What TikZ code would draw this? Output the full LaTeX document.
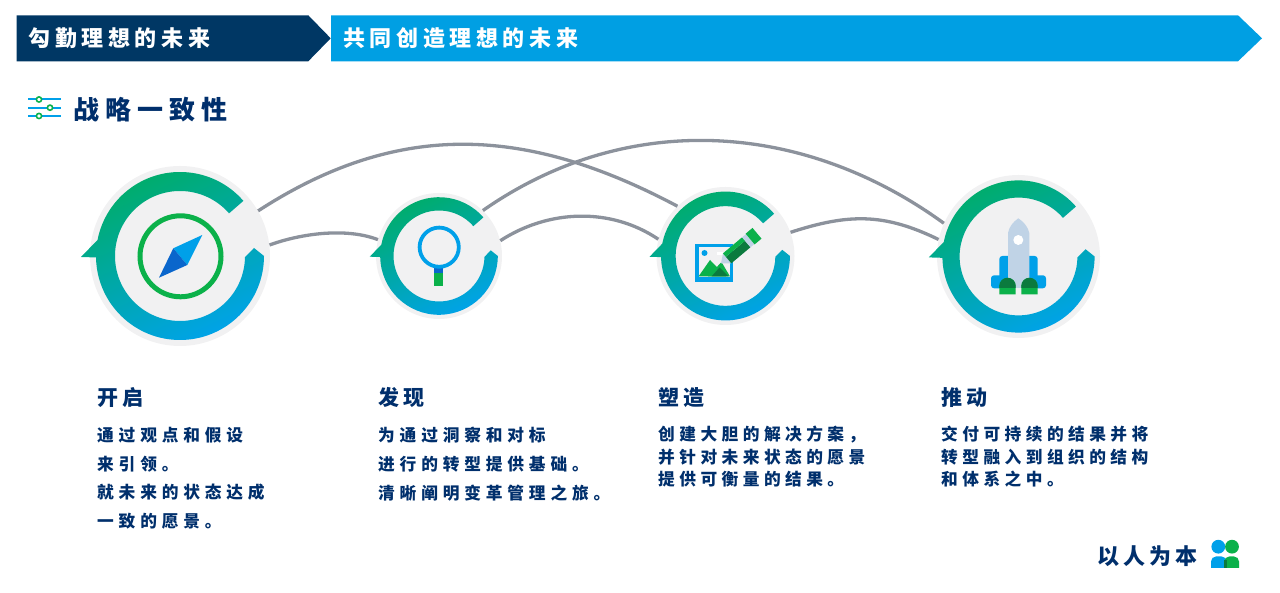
\documentclass[tikz,border=0pt]{standalone}
\usepackage{fontspec}
\usepackage{tikz}
\newfontfamily\cjk{Noto Sans CJK SC}
\definecolor{navyband}{HTML}{003764}
\definecolor{skyband}{HTML}{009FE3}
\definecolor{navytext}{HTML}{002F6C}
\definecolor{ringgreen}{HTML}{00AD64}
\definecolor{ringblue}{HTML}{00A3E6}
\definecolor{ringback}{HTML}{F1F1F2}
\definecolor{linkgray}{HTML}{8C929C}
\definecolor{icongreen}{HTML}{0BB14A}
\definecolor{icondark}{HTML}{0B7A3E}
\definecolor{iconblue}{HTML}{00A0E9}
\definecolor{iconnavy}{HTML}{0A66CC}
\definecolor{iconpale}{HTML}{C0D3E6}
\tikzset{
    stagecircle/.style={circle, fill=ringback, inner sep=0pt},
    link/.style={draw=linkgray, line width=3.3pt},
    bandtext/.style={anchor=west, inner sep=0pt, text=white, font=\cjk\bfseries\fontsize{22}{26}\selectfont\addfontfeature{LetterSpace=21}},
    titletext/.style={anchor=west, inner sep=0pt, text=navytext, font=\cjk\bfseries\fontsize{26}{30}\selectfont\addfontfeature{LetterSpace=23}},
    headtext/.style={anchor=west, inner sep=0pt, text=navytext, font=\cjk\bfseries\fontsize{21}{25}\selectfont\addfontfeature{LetterSpace=19}},
    bodytext/.style 2 args={anchor=north west, inner sep=0pt, align=left, text=navytext, font=\cjk\bfseries\fontsize{16.7}{#1}\selectfont\addfontfeature{LetterSpace=#2}},
    stagering/.pic={
        \shade[top color=ringgreen, bottom color=ringblue, shading angle=25]
            (41:84) arc[start angle=41, end angle=169, radius=84]
            -- (-99,-1) -- (181:84)
            arc[start angle=181, end angle=360, radius=84]
            -- (74,8) -- (-1:65)
            arc[start angle=359, end angle=41, radius=65] -- cycle;
    }
}
\begin{document}
\begin{tikzpicture}[x=1pt, y=1pt]
    \useasboundingbox (0,0) rectangle (1280,593);
    % bands
    \fill[skyband] (331,577.7) -- (1238,577.7) -- (1262,554.7) -- (1238,531.7) -- (331,531.7) -- cycle;
    \fill[navyband] (16.7,577.7) -- (308.3,577.7) -- (330.7,554.7) -- (308.3,531.7) -- (16.7,531.7) -- cycle;
    \node[bandtext] (leadband) at (28.3,554.5) {勾勤理想的未来};
    \node[bandtext] (jointband) at (343,554.5) {共同创造理想的未来};
    % title
    \node[titletext] (aligntitle) at (73,483.5) {战略一致性};
    % stages
    \node[stagecircle, minimum size=180pt] (open) at (180,337) {};
    \node[stagecircle, minimum size=126pt] (discover) at (439,337) {};
    \node[stagecircle, minimum size=138pt] (shape) at (725.5,337) {};
    \node[stagecircle, minimum size=163pt] (drive) at (1018.5,336.5) {};
    \pic[scale=1] at (open.center) {stagering};
    \pic[scale=.7] at (discover.center) {stagering};
    \pic[scale=.767] at (shape.center) {stagering};
    \pic[scale=.906] at (drive.center) {stagering};
    % links
    \draw[link] (open.30) to[out=33, in=152, looseness=1.03] (shape.134);
    \draw[link] (discover.46) to[out=35, in=144, looseness=.97] (drive.156);
    \draw[link] (open.7) to[out=20, in=159, looseness=.8] (discover.165);
    \draw[link] (discover.14) to[out=33, in=146, looseness=.93] (shape.166);
    \draw[link] (shape.20) to[out=18, in=154, looseness=1.05] (drive.168);
    % labels
    \node[headtext] (openhead) at (97,195.5) {开启};
    \node[headtext] (discoverhead) at (378,195.5) {发现};
    \node[headtext] (shapehead) at (658,195.5) {塑造};
    \node[headtext] (drivehead) at (941,195.5) {推动};
    \node[bodytext={28.7}{29}] (openbody) at (97,166) {通过观点和假设\\来引领。\\就未来的状态达成\\一致的愿景。};
    \node[bodytext={28.7}{29}] (discoverbody) at (378,166) {为通过洞察和对标\\进行的转型提供基础。\\清晰阐明变革管理之旅。};
    \node[bodytext={22.4}{26.7}] (shapebody) at (658,167) {创建大胆的解决方案，\\并针对未来状态的愿景\\提供可衡量的结果。};
    \node[bodytext={22.4}{26.7}] (drivebody) at (941,167) {交付可持续的结果并将\\转型融入到组织的结构\\和体系之中。};
    \node[headtext, font=\cjk\bfseries\fontsize{22}{26}\selectfont\addfontfeature{LetterSpace=18}] (peoplelabel) at (1097.5,37) {以人为本};
    % icons, in picture pixels
    \begin{scope}[shift={(0,593)}, yscale=-1]
        % sliders
        \foreach \ypos/\xpos in {99.5/39, 107.7/50, 116/39} {
            \draw[iconblue, line width=2pt] (28.3,\ypos) -- (61,\ypos);
            \draw[icongreen, fill=white, line width=1.6pt] (\xpos,\ypos) circle (2.6);
        }
        % compass
        \draw[icongreen, line width=5pt] (180.5,256.3) circle (40.5);
        \fill[iconblue] (202.3,235) -- (173.3,248.3) -- (187.3,265) -- cycle;
        \fill[iconnavy] (159,277.7) -- (173.3,248.3) -- (187.3,265) -- cycle;
        % magnifier
        \fill[icongreen] (434.3,265) rectangle (443,286);
        \fill[iconnavy] (434.3,265) rectangle (443,273);
        \draw[iconblue, line width=3.8pt] (439.2,247.2) circle (19.6);
        % picture frame and pen
        \draw[iconblue, line width=3.5pt] (696.8,245.7) rectangle (731.6,280.2);
        \fill[iconblue] (696.8,277) rectangle (731.6,280.2);
        \fill[iconblue] (704.5,253) circle (3);
        \fill[white] (717,252.5) rectangle (725,255);
        \fill[icongreen] (698.5,276.5) -- (710,260) -- (726,276.5) -- cycle;
        \fill[icongreen] (708,276.5) -- (721.5,262) -- (730,276.5) -- cycle;
        \fill[icondark] (711.5,276.5) -- (719.5,267.5) -- (728.5,276.5) -- cycle;
        \begin{scope}[shift={(721,263.5)}, rotate=-40]
            \fill[iconpale] (0,0) -- (8,-6.5) -- (8,6.5) -- cycle;
            \fill[icondark] (8,-2) rectangle (33,6.5);
            \fill[icongreen] (8,-6.5) rectangle (33,-2);
            \fill[iconpale] (33,-6.5) rectangle (38,6.5);
            \fill[icongreen] (38,-7) rectangle (47,7);
        \end{scope}
        % rocket
        \fill[iconblue, rounded corners=3pt] (999.3,288) -- (999.3,256) -- (1037.7,256) -- (1037.7,288) -- cycle;
        \fill[iconblue, rounded corners=3pt] (991,288.3) -- (991,275.3) -- (1005,275.3) -- (1005,288.3) -- cycle;
        \fill[iconblue, rounded corners=3pt] (1046,288.3) -- (1046,275.3) -- (1032,275.3) -- (1032,288.3) -- cycle;
        \fill[iconpale] (1008,288) -- (1008,233) .. controls (1009,227) and (1013,222) .. (1018.3,218.3) .. controls (1024,222) and (1028,227) .. (1029.3,233) -- (1029.3,288) -- cycle;
        \fill[white] (1018.3,240) circle (5);
        \foreach \xpos in {999.3, 1021.3} {
            \fill[icongreen] (\xpos,294.3) -- (\xpos,286) arc[start angle=180, end angle=360, radius=8.2] -- (\xpos+16.4,294.3) -- cycle;
            \begin{scope}
                \clip (\xpos-1,270) rectangle (\xpos+18,288);
                \fill[icondark] (\xpos,294.3) -- (\xpos,286) arc[start angle=180, end angle=360, radius=8.2] -- (\xpos+16.4,294.3) -- cycle;
            \end{scope}
        }
        % people
        \fill[iconblue] (1218.3,546.7) circle (6.9);
        \fill[iconblue] (1211,568) [rounded corners=5pt] -- (1211,556.5) -- (1226.7,556.5) [sharp corners] -- (1226.7,568) -- cycle;
        \fill[icongreen] (1232,546.7) circle (6.9);
        \fill[icongreen] (1224.3,568) [rounded corners=5pt] -- (1224.3,556.5) -- (1239,556.5) [sharp corners] -- (1239,568) -- cycle;
        \fill[icondark] (1224.3,560) rectangle (1226.7,568);
    \end{scope}
\end{tikzpicture}
\end{document}
